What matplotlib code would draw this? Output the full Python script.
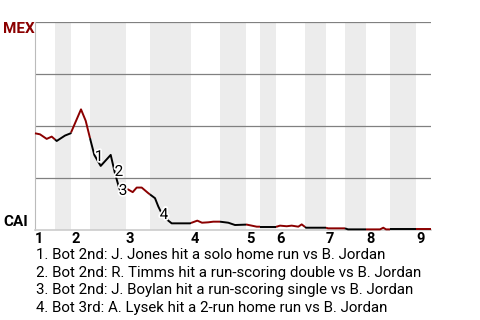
import matplotlib
matplotlib.use('Agg')
import matplotlib.pyplot as plt
import matplotlib.patheffects as pe
import numpy as np

plt.rcParams['font.family'] = ['Roboto', 'DejaVu Sans']

# game progress (0..396) and MEX win probability
prog = [0, 5, 11.7, 16.7, 21.7, 30, 35.7, 46, 50.7, 55.7, 59.3, 65.7, 75.7, 80,
        83.3, 85.5, 92.7, 97.7, 101.7, 106.7, 113.3, 120, 123.3, 128.3, 136.7,
        155, 162.3, 167, 173.3, 178.3, 185, 193.3, 200, 211.7, 221.7, 241.7,
        245, 251.7, 256.7, 263.3, 266.7, 271, 291, 293, 310, 313, 345, 348.3,
        351, 396]
mex_wp = [0.465, 0.460, 0.438, 0.449, 0.428, 0.454, 0.465, 0.580, 0.525, 0.428,
          0.361, 0.308, 0.361, 0.272, 0.216, 0.183, 0.196, 0.182, 0.204, 0.204,
          0.177, 0.153, 0.113, 0.064, 0.032, 0.032, 0.045, 0.035, 0.037, 0.040,
          0.040, 0.035, 0.024, 0.026, 0.016, 0.016, 0.021, 0.018, 0.021, 0.016,
          0.027, 0.011, 0.011, 0.008, 0.008, 0.003, 0.003, 0.011, 0.003, 0.003]

# half-inning boundaries (top, bottom, top, ...)
half_starts = [0, 20, 36, 55, 91, 115, 156, 185, 211, 225, 241, 270, 291, 310,
               331, 355, 381, 396]
inning_labels = ['1', '2', '3', '4', '5', '6', '7', '8', '9']

events = ['1', '2', '3', '4']
event_x = [64, 84, 88, 129]
event_y = [0.351, 0.279, 0.188, 0.072]
event_text = [
    '1. Bot 2nd: J. Jones hit a solo home run vs B. Jordan',
    '2. Bot 2nd: R. Timms hit a run-scoring double vs B. Jordan',
    '3. Bot 2nd: J. Boylan hit a run-scoring single vs B. Jordan',
    '4. Bot 3rd: A. Lysek hit a 2-run home run vs B. Jordan',
]

red = '#8b0000'

fig = plt.figure(figsize=(4.8, 3.2), dpi=100)
ax = fig.add_axes([35 / 480, 1 - 230 / 320, 396 / 480, 208 / 320])
ax.set_xlim(0, 396)
ax.set_ylim(0, 1)

# shaded bottom halves
for i in range(1, len(half_starts) - 1, 2):
    ax.axvspan(half_starts[i], half_starts[i + 1], color='#ececec', lw=0, zorder=0)

for g in [0.25, 0.5, 0.75, 1.0]:
    ax.axhline(g, color='#808080', lw=0.9, zorder=1)

# line coloured by half inning
px = np.array(prog)
py = np.array(mex_wp)
for i in range(len(half_starts) - 1):
    a, b = half_starts[i], half_starts[i + 1]
    m = (px > a) & (px < b)
    xs = np.concatenate([[a], px[m], [b]])
    ys = np.interp(xs, px, py)
    ax.plot(xs, ys, color=red if i % 2 == 0 else 'black', lw=1.4,
            solid_capstyle='butt', zorder=3, clip_on=False)

for t, x, y in zip(events, event_x, event_y):
    ax.text(x, y, t, fontsize=11, ha='center', va='center', zorder=4,
            path_effects=[pe.withStroke(linewidth=2.5, foreground='white')])

for j, lab in enumerate(inning_labels):
    ax.text(half_starts[2 * j], -0.01, lab, fontsize=10.5, fontweight='bold',
            ha='left', va='top', transform=ax.get_xaxis_transform())

for s in ['top', 'right']:
    ax.spines[s].set_visible(False)
ax.spines['left'].set_color('#bbbbbb')
ax.spines['bottom'].set_color('#cccccc')
ax.spines['bottom'].set_linewidth(1.2)
ax.set_xticks([])
ax.set_yticks([])

fig.text(3 / 480, 1 - 22 / 320, 'MEX', color=red, fontsize=11, fontweight='bold',
         ha='left', va='top')
fig.text(3 / 480, 1 - 229 / 320, 'CAI', color='black', fontsize=11, fontweight='bold',
         ha='left', va='bottom')

for k, line in enumerate(event_text):
    fig.text(36 / 480, 1 - (259 + 17.6 * k) / 320, line, fontsize=10.8,
             ha='left', va='baseline')

fig.savefig('out.png', dpi=100)
